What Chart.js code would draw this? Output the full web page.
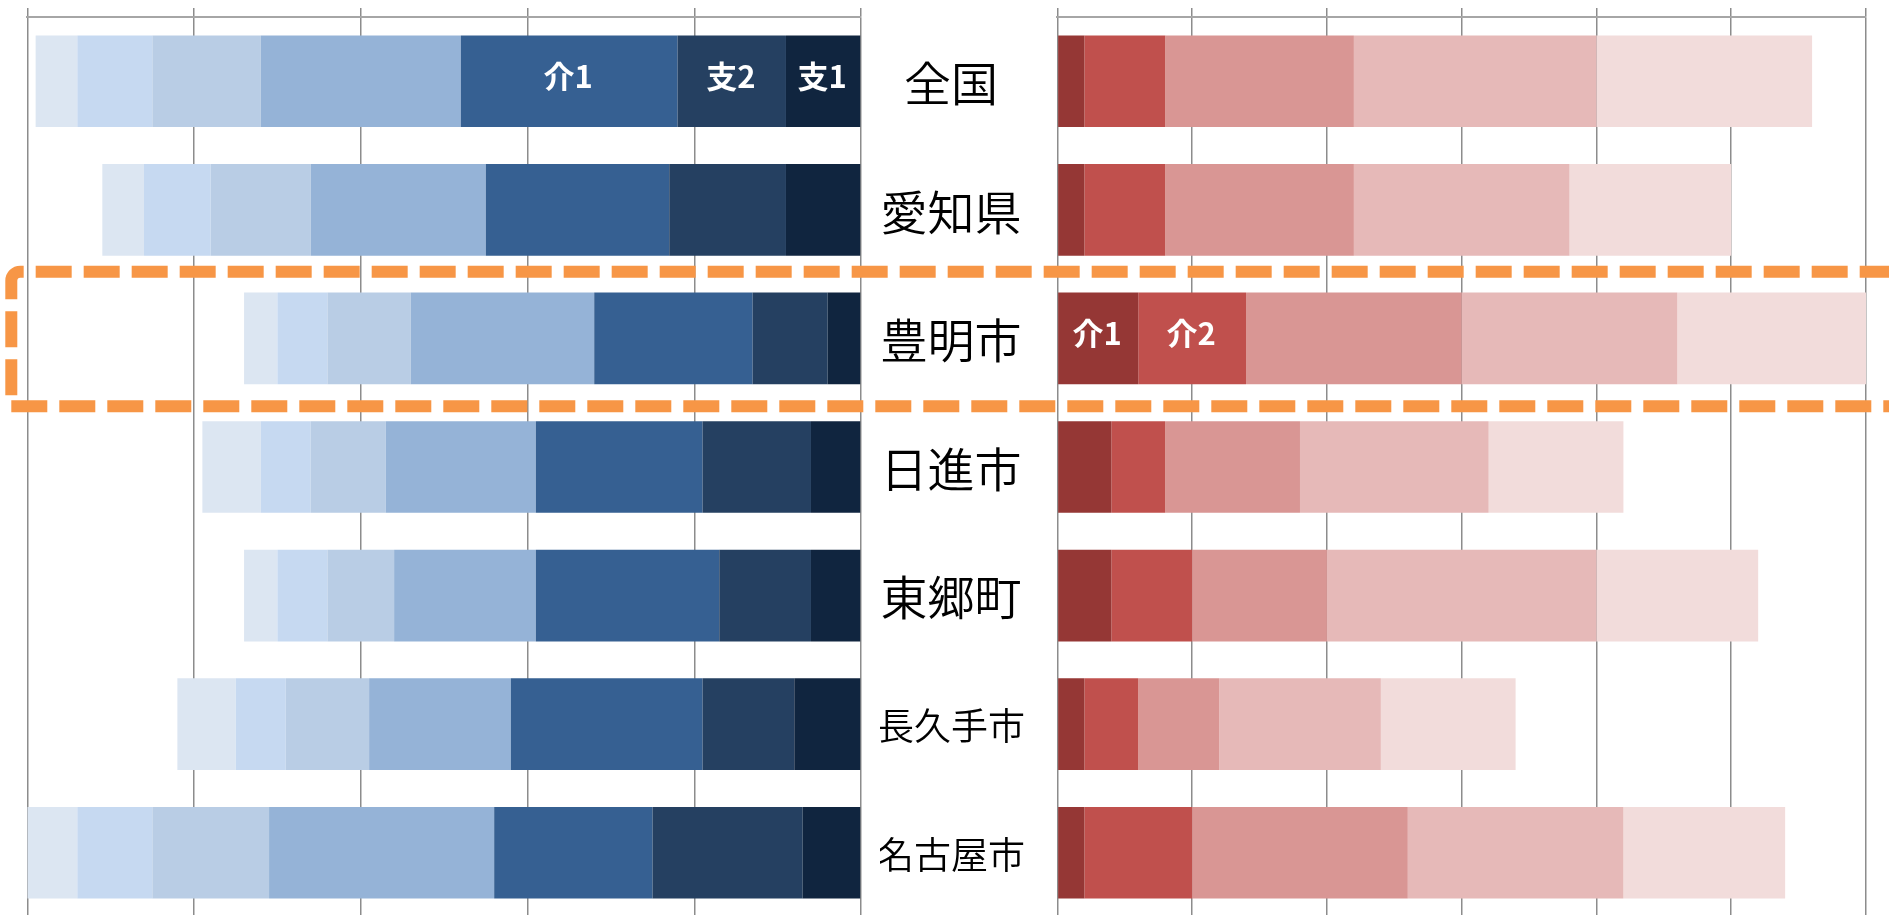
<!DOCTYPE html>
<html><head><meta charset="utf-8">
<script src="https://cdn.jsdelivr.net/npm/chart.js@4.4.1/dist/chart.umd.min.js"></script>
<style>
html,body{margin:0;padding:0;background:#fff;overflow:hidden;width:1889px;height:915px;}
#cL{position:absolute;left:0;top:0;}
#cR{position:absolute;left:880px;top:0;}
#overlay{position:absolute;left:0;top:0;pointer-events:none;}
</style></head><body>
<canvas id="cL" width="880" height="917"></canvas>
<canvas id="cR" width="1009" height="917"></canvas>
<canvas id="overlay" width="1889" height="915"></canvas>
<script>
// ---- data ----
const categories = ['全国', '愛知県', '豊明市', '日進市', '東郷町', '長久手市', '名古屋市'];

// left panel (stacked leftwards from 0)
const leftSeries = ['支1', '支2', '介1', '介2', '介3', '介4', '介5'];
const leftShi1 = [1.8, 1.8, 0.8, 1.2, 1.2, 1.6, 1.4];
const leftShi2 = [2.6, 2.8, 1.8, 2.6, 2.2, 2.2, 3.6];
const leftKai1 = [5.2, 4.4, 3.8, 4.0, 4.4, 4.6, 3.8];
const leftKai2 = [4.8, 4.2, 4.4, 3.6, 3.4, 3.4, 5.4];
const leftKai3 = [2.6, 2.4, 2.0, 1.8, 1.6, 2.0, 2.8];
const leftKai4 = [1.8, 1.6, 1.2, 1.2, 1.2, 1.2, 1.8];
const leftKai5 = [1.0, 1.0, 0.8, 1.4, 0.8, 1.4, 1.2];
const leftValues = [leftShi1, leftShi2, leftKai1, leftKai2, leftKai3, leftKai4, leftKai5];
const leftMax = 20, leftStep = 4;

// right panel
const rightSeries = ['介1', '介2', '介3', '介4', '介5'];
const rightKai1 = [2, 2, 6, 4, 4, 2, 2];
const rightKai2 = [6, 6, 8, 4, 6, 4, 8];
const rightKai3 = [14, 14, 16, 10, 10, 6, 16];
const rightKai4 = [18, 16, 16, 14, 20, 12, 16];
const rightKai5 = [16, 12, 14, 10, 12, 10, 12];
const rightValues = [rightKai1, rightKai2, rightKai3, rightKai4, rightKai5];
const rightMax = 60, rightStep = 10;

// labelled segments
const leftLabelRow = '全国';
const leftLabelSeries = ['支1', '支2', '介1'];
const rightLabelRow = '豊明市';
const rightLabelSeries = ['介1', '介2'];
const highlightRow = '豊明市';

// ---- styles ----
const blueColors = ['#10253f', '#254061', '#366092', '#95b3d7', '#b9cde5', '#c6d9f1', '#dce6f2'];
const redColors = ['#953735', '#c0504d', '#d99694', '#e6b9b8', '#f2dcdb'];
const FONT = '"Noto Sans CJK JP", "Noto Sans", sans-serif';
const gridColor = '#8c8c8c';

const barLabelPlugin = {
  id: 'barLabels',
  afterDatasetsDraw(chart, args, opts) {
    const ctx = chart.ctx;
    const row = chart.data.labels.indexOf(opts.row);
    if (row < 0) return;
    ctx.save();
    ctx.font = 'bold 31px ' + FONT;
    ctx.fillStyle = '#ffffff';
    ctx.textAlign = 'center';
    ctx.textBaseline = 'middle';
    chart.data.datasets.forEach((ds, di) => {
      if (!opts.series.includes(ds.label)) return;
      const el = chart.getDatasetMeta(di).data[row];
      const c = el.getCenterPoint();
      ctx.fillText(ds.label, c.x - 1, c.y - 5);
    });
    ctx.restore();
  }
};

const catLabelPlugin = {
  id: 'catLabels',
  afterDraw(chart, args, opts) {
    const ctx = chart.ctx;
    const ys = chart.scales.y;
    ctx.save();
    ctx.fillStyle = '#000';
    ctx.textAlign = 'center';
    ctx.textBaseline = 'middle';
    chart.data.labels.forEach((lab, i) => {
      const size = lab.length > 3 ? 37 : 47;
      ctx.font = '350 ' + size + 'px ' + FONT;
      ctx.fillText(lab, opts.x, ys.getPixelForValue(i) + 2);
    });
    ctx.restore();
  }
};

function commonScales(max, step, reverse) {
  return {
    x: {
      position: 'top', stacked: true, min: 0, max: max, reverse: reverse,
      ticks: { display: false, stepSize: step },
      grid: { color: gridColor, lineWidth: 1.5, tickLength: 9, drawTicks: true },
      border: { display: true, color: '#a6a6a6', width: 2 }
    },
    y: { stacked: true, display: false }
  };
}

const chartL = new Chart(document.getElementById('cL'), {
  type: 'bar',
  data: {
    labels: categories,
    datasets: leftSeries.map((n, i) => ({
      label: n, data: leftValues[i], backgroundColor: blueColors[i],
      borderWidth: 0, categoryPercentage: 1, barPercentage: 0.713
    }))
  },
  options: {
    indexAxis: 'y', responsive: false, animation: false,
    layout: { padding: { left: 27.3, right: 19, top: 8, bottom: 0 } },
    plugins: { legend: { display: false }, tooltip: { enabled: false },
      barLabels: { row: leftLabelRow, series: leftLabelSeries } },
    scales: commonScales(leftMax, leftStep, true)
  },
  plugins: [barLabelPlugin]
});

const chartR = new Chart(document.getElementById('cR'), {
  type: 'bar',
  data: {
    labels: categories,
    datasets: rightSeries.map((n, i) => ({
      label: n, data: rightValues[i], backgroundColor: redColors[i],
      borderWidth: 0, categoryPercentage: 1, barPercentage: 0.713
    }))
  },
  options: {
    indexAxis: 'y', responsive: false, animation: false,
    layout: { padding: { left: 177.4, right: 23, top: 8, bottom: 0 } },
    plugins: { legend: { display: false }, tooltip: { enabled: false },
      barLabels: { row: rightLabelRow, series: rightLabelSeries },
      catLabels: { x: 71 } },
    scales: commonScales(rightMax, rightStep, false)
  },
  plugins: [barLabelPlugin, catLabelPlugin]
});

// highlight box around one row
(function drawHighlight() {
  const ys = chartL.scales.y;
  const idx = categories.indexOf(highlightRow);
  const band = (ys.bottom - ys.top) / categories.length;
  const cy = ys.getPixelForValue(idx);
  const T = cy - band / 2 - 2.5, B = cy + band / 2 + 3.5;
  const L = 11.3, R = 1889 + 30, r = 9;
  const ctx = document.getElementById('overlay').getContext('2d');
  ctx.strokeStyle = '#f79646';
  ctx.lineWidth = 12;
  ctx.lineCap = 'butt';
  ctx.setLineDash([36, 12]);
  ctx.lineDashOffset = 37;
  ctx.beginPath();
  ctx.moveTo(L, B);
  ctx.lineTo(L, T + r);
  ctx.arcTo(L, T, L + r, T, r);
  ctx.lineTo(R, T);
  ctx.stroke();
  ctx.lineDashOffset = 0;
  ctx.beginPath();
  ctx.moveTo(L, B);
  ctx.lineTo(R, B);
  ctx.stroke();
})();
</script>
</body></html>
